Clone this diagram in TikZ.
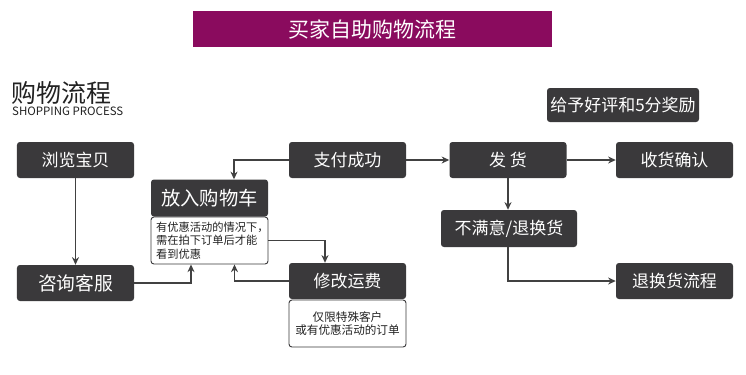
\documentclass[tikz,border=0pt]{standalone}
\usepackage{fontspec}
\setmainfont{Noto Sans CJK SC}
\usetikzlibrary{arrows.meta,calc}
\definecolor{plum}{HTML}{8A0B5E}
\definecolor{slate}{HTML}{3A393B}
\definecolor{wire}{HTML}{414141}
\definecolor{ink}{HTML}{222222}

\begin{document}
\begin{tikzpicture}[
  x=0.3mm, y=-0.3mm, >={Stealth[length=2.3mm,width=2.1mm]},
  box/.style={fill=slate, rounded corners=2.5pt, text=white, inner sep=0pt,
    minimum width=35.1mm, minimum height=10.8mm, font=\fontsize{14.5}{17}\selectfont},
  note/.style={draw=slate, line width=0.8pt, fill=white, rounded corners=2.5pt, inner sep=1pt,
    minimum width=35.1mm, minimum height=14.1mm, align=left, text=ink,
    font=\fontsize{9.6}{11.5}\selectfont},
  arr/.style={->, draw=wire, line width=1pt},
]
\useasboundingbox (0,0) rectangle (746,374);
\fill[white] (0,0) rectangle (746,374);

% ===== title banner + heading =====
\node[fill=plum, text=white, minimum width=107.7mm, minimum height=10.8mm, inner sep=0pt,
      font=\fontsize{17.9}{20}\selectfont] (title) at (372.5,29) {买家自助购物流程};
\node[anchor=west, inner sep=0pt, text=ink, font=\fontsize{21.3}{24}\selectfont] (head) at (11,93) {购物流程};
\node[anchor=west, inner sep=0pt, text=ink, font=\fontsize{9.8}{11}\selectfont] (headen) at (12,111) {SHOPPING PROCESS};

% ===== left column =====
\node[box] (browse)  at (75.5,160) {浏览宝贝};
\node[box, font=\fontsize{16}{18}\selectfont] (consult) at (75.5,283) {咨询客服};

% ===== cart + its note =====
\node[box, minimum height=11.1mm, font=\fontsize{16.5}{19}\selectfont] (cart) at (209.5,198) {放入购物车};
\node[note, inner xsep=1.5mm, text width=32mm] (cartnote) at (209.5,240.5)
  {有优惠活动的情况下，\\需在拍下订单后才能\\看到优惠};

% ===== payment + shipping fee =====
\node[box] (pay) at (347.5,160) {支付成功};
\node[box] (fee) at (347.5,281) {修改运费};
\node[note, align=center, font=\fontsize{9.9}{11.5}\selectfont] (feenote) at (347.5,323.5)
  {仅限特殊客户\\或有优惠活动的订单};

% ===== delivery branch =====
\node[box] (ship)    at (508,160)   {发\ 货};
\node[box] (recv)    at (674.5,160) {收货确认};
\node[box, minimum width=45.6mm, minimum height=10.2mm] (praise) at (623,105) {给予好评和5分奖励};
\node[box, minimum width=40.8mm, minimum height=11.1mm] (unhappy) at (509,228.5) {不满意/退换货};
\node[box] (refund)  at (674.5,281) {退换货流程};

% ===== connectors =====
\draw[arr] (browse) -- (consult);
\draw[arr] (consult.east) -| ($(cartnote.south)+(-18.5,0)$);
\draw[arr] (fee.west) -| ($(cartnote.south)+(25,0)$);
\draw[arr] (cartnote.east) -| ($(fee.north)+(-22.5,0)$);
\draw[arr] (pay.west) -| ($(cart.north)+(24.5,0)$);
\draw[arr] (pay) -- (ship);
\draw[arr] (ship) -- (recv);
\draw[arr] (ship.south) -- (ship.south |- unhappy.north);
\draw[arr] (ship.south |- unhappy.south) |- (refund.west);
\end{tikzpicture}
\end{document}
